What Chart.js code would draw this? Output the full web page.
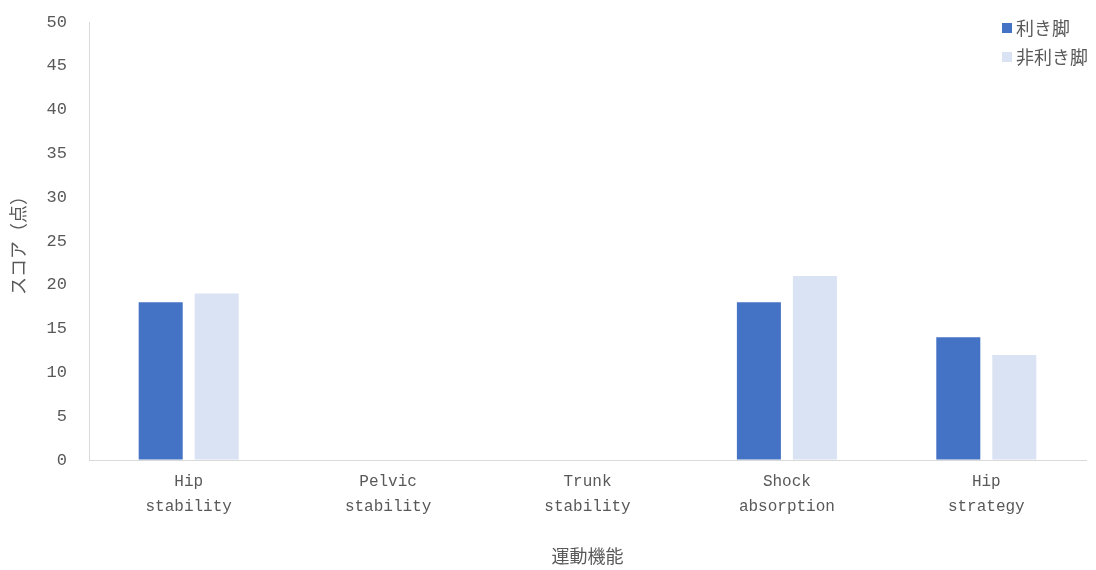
<!DOCTYPE html>
<html><head><meta charset="utf-8">
<script src="https://cdn.jsdelivr.net/npm/chart.js@4/dist/chart.umd.min.js"></script>
<style>html,body{margin:0;padding:0;background:#fff}#wrap{width:1096px;height:570px;position:relative}</style>
</head><body><div id="wrap"><canvas id="c" width="1096" height="570"></canvas></div>
<script>
const categories = [["Hip","stability"],["Pelvic","stability"],["Trunk","stability"],["Shock","absorption"],["Hip","strategy"]];
const dominantLeg = [18, 0, 0, 18, 14];
const nonDominantLeg = [19, 0, 0, 21, 12];
const seriesNames = ["利き脚", "非利き脚"];
const yTitle = "スコア（点）";
const xTitle = "運動機能";

const textColor = '#595959';
const jpFont = '"Noto Sans CJK JP", "Noto Sans", sans-serif';
const monoFont = '"Liberation Mono", "DejaVu Sans Mono", monospace';

const legendPlugin = {
  id: 'cornerLegend',
  afterDraw(chart) {
    const ctx = chart.ctx;
    ctx.save();
    ctx.font = '18px ' + jpFont;
    ctx.textBaseline = 'middle';
    ctx.textAlign = 'left';
    chart.data.datasets.forEach((ds, i) => {
      const y = 28 + i * 29;
      ctx.fillStyle = ds.backgroundColor;
      ctx.fillRect(1002, y - 5, 10, 10);
      ctx.fillStyle = textColor;
      ctx.fillText(ds.label, 1016, y);
    });
    ctx.restore();
  }
};

new Chart(document.getElementById('c'), {
  type: 'bar',
  data: {
    labels: categories,
    datasets: [
      { label: seriesNames[0], data: dominantLeg, backgroundColor: '#4472C4' },
      { label: seriesNames[1], data: nonDominantLeg, backgroundColor: '#DAE3F3' }
    ]
  },
  options: {
    responsive: false,
    animation: false,
    layout: { padding: { top: 22, right: 10, bottom: 0, left: 0 } },
    plugins: { legend: { display: false }, tooltip: { enabled: false } },
    datasets: { bar: { categoryPercentage: 0.5617, barPercentage: 0.786 } },
    scales: {
      x: {
        grid: { display: true, drawOnChartArea: false, drawTicks: false },
        border: { display: true, color: '#D9D9D9', width: 1 },
        ticks: { color: textColor, font: { family: monoFont, size: 16, lineHeight: '25px' }, padding: 9, maxRotation: 0, autoSkip: false },
        title: { display: true, text: xTitle, color: textColor, font: { family: jpFont, size: 18 }, padding: { top: 0, bottom: 3 } },
        afterFit(scale) { scale.height = 110; }
      },
      y: {
        min: 0, max: 50,
        grid: { display: true, drawOnChartArea: false, drawTicks: false },
        border: { display: true, color: '#D9D9D9', width: 1 },
        ticks: { stepSize: 5, color: textColor, font: { family: monoFont, size: 17 }, padding: 22 },
        title: { display: true, text: yTitle, color: textColor, font: { family: jpFont, size: 18 }, padding: { top: 7, bottom: 0 } },
        afterFit(scale) { scale.width = 89; scale.paddingTop = 0; scale.paddingBottom = 0; }
      }
    }
  },
  plugins: [legendPlugin]
});
</script></body></html>
